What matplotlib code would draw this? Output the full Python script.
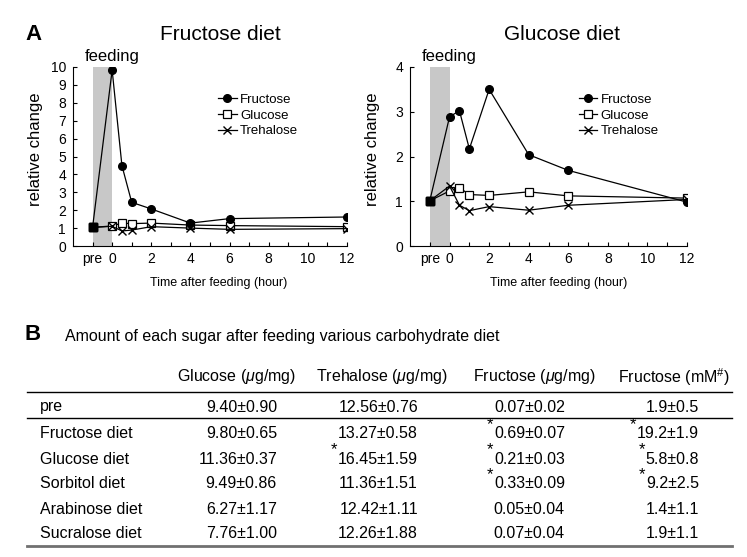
import matplotlib
matplotlib.use("Agg")
import matplotlib.pyplot as plt
from matplotlib.lines import Line2D

plt.rcParams["font.family"] = ["Liberation Sans", "DejaVu Sans"]
plt.rcParams["mathtext.fontset"] = "custom"
plt.rcParams["mathtext.rm"] = "Liberation Sans"
plt.rcParams["mathtext.it"] = "Liberation Sans:italic"

# ---- panel A: relative change after feeding ----
hours = [-1, 0, 0.5, 1, 2, 4, 6, 12]  # -1 is the "pre" sample
xtick_pos = list(range(-1, 13))
xtick_labels = ["pre", "0", "", "2", "", "4", "", "6", "", "8", "", "10", "", "12"]

fd_fructose = [1.04, 9.83, 4.49, 2.44, 2.07, 1.28, 1.53, 1.62]
fd_glucose = [1.04, 1.12, 1.28, 1.25, 1.28, 1.17, 1.14, 1.08]
fd_trehalose = [1.04, 1.10, 0.84, 0.89, 1.08, 1.00, 0.93, 0.97]

gd_fructose = [1.01, 2.89, 3.02, 2.17, 3.50, 2.04, 1.69, 0.98]
gd_glucose = [1.01, 1.23, 1.30, 1.15, 1.13, 1.21, 1.12, 1.07]
gd_trehalose = [1.01, 1.34, 0.91, 0.79, 0.88, 0.80, 0.91, 1.04]

# ---- panel B: table ----
row_labels = ["pre", "Fructose diet", "Glucose diet", "Sorbitol diet",
              "Arabinose diet", "Sucralose diet"]
col_headers = [r"Glucose ($\mu$g/mg)", r"Trehalose ($\mu$g/mg)",
               r"Fructose ($\mu$g/mg)", r"Fructose (mM$^{\#}$)"]
glucose_mean = [9.40, 9.80, 11.36, 9.49, 6.27, 7.76]
glucose_sd = [0.90, 0.65, 0.37, 0.86, 1.17, 1.00]
trehalose_mean = [12.56, 13.27, 16.45, 11.36, 12.42, 12.26]
trehalose_sd = [0.76, 0.58, 1.59, 1.51, 1.11, 1.88]
fructose_mean = [0.07, 0.69, 0.21, 0.33, 0.05, 0.07]
fructose_sd = [0.02, 0.07, 0.03, 0.09, 0.04, 0.04]
fructose_mm_mean = [1.9, 19.2, 5.8, 9.2, 1.4, 1.9]
fructose_mm_sd = [0.5, 1.9, 0.8, 2.5, 1.1, 1.1]
# significant vs pre (asterisk)
glucose_sig = [False] * 6
trehalose_sig = [False, False, True, False, False, False]
fructose_sig = [False, True, True, True, False, False]
fructose_mm_sig = [False, True, True, True, False, False]

W, H = 747, 557
fig = plt.figure(figsize=(W / 100, H / 100), dpi=100)


def px_axes(x0, x1, ytop, ybot):
    return fig.add_axes([x0 / W, 1 - ybot / H, (x1 - x0) / W, (ybot - ytop) / H])


def draw_panel(ax, fru, glc, tre, ymax, leg_x, xlab_x):
    ax.axvspan(-1, 0, color="#c8c8c8", lw=0, zorder=0)
    idx = list(range(1, len(hours)))
    ax.plot(hours, glc, color="black", lw=0.9, marker="s", ms=5.5,
            mfc="white", mec="black", mew=0.9, markevery=idx, zorder=3)
    ax.plot(hours, tre, color="black", lw=0.9, marker="x", ms=5.5,
            mew=1.0, markevery=idx, zorder=3)
    ax.plot(hours, fru, color="black", lw=0.9, marker="o", ms=5.5,
            mfc="black", markevery=idx, zorder=4)
    for s in (fru, glc, tre):
        ax.plot(hours[0], s[0], marker="s", ms=6, color="black", ls="none", zorder=5)

    ax.set_xlim(-2, 12)
    ax.set_ylim(0, ymax)
    ax.set_xticks(xtick_pos)
    ax.set_xticklabels(xtick_labels)
    ax.set_yticks(range(0, ymax + 1))
    ax.tick_params(direction="in", length=3, width=0.8, labelsize=10)
    ax.tick_params(axis="x", pad=4)
    ax.tick_params(axis="y", pad=5)
    for sp in ("top", "right"):
        ax.spines[sp].set_visible(False)
    for sp in ("left", "bottom"):
        ax.spines[sp].set_linewidth(0.8)
    ax.patch.set_visible(False)

    ax.set_ylabel("relative change", fontsize=12)
    ax.yaxis.set_label_coords(-0.11, 0.54)
    ax.set_xlabel("Time after feeding (hour)", fontsize=9)
    ax.xaxis.set_label_coords(xlab_x, -0.175)

    ax.text(0, 1.06, "feeding", transform=ax.get_xaxis_transform(),
            ha="center", va="center", fontsize=12)

    handles = [
        Line2D([], [], color="black", lw=0.9, marker="o", ms=5.5, mfc="black"),
        Line2D([], [], color="black", lw=0.9, marker="s", ms=5.5, mfc="white", mew=0.9),
        Line2D([], [], color="black", lw=0.9, marker="x", ms=5.5, mew=1.0),
    ]
    ax.legend(handles, ["Fructose", "Glucose", "Trehalose"], loc="upper left",
              bbox_to_anchor=(leg_x, 0.85), frameon=False, fontsize=9.5,
              handlelength=1.4, handletextpad=0.25, labelspacing=0.25,
              borderpad=0, borderaxespad=0, numpoints=1)


ax1 = px_axes(73, 347, 67, 246)
draw_panel(ax1, fd_fructose, fd_glucose, fd_trehalose, 10, 0.53, 0.53)
ax2 = px_axes(410, 687, 67, 246)
draw_panel(ax2, gd_fructose, gd_glucose, gd_trehalose, 4, 0.61, 0.535)

# overlay in pixel coordinates for labels and the table
ov = fig.add_axes([0, 0, 1, 1], zorder=-1)
ov.set_xlim(0, W)
ov.set_ylim(H, 0)
ov.axis("off")

ov.text(33, 34, "A", fontsize=16, fontweight="bold", ha="center", va="center")
ov.text(220, 35, "Fructose diet", fontsize=15, ha="center", va="center")
ov.text(562, 35, "Glucose diet", fontsize=15, ha="center", va="center")

ov.text(33, 335, "B", fontsize=16, fontweight="bold", ha="center", va="center")
ov.text(65, 337, "Amount of each sugar after feeding various carbohydrate diet",
        fontsize=11.5, ha="left", va="center")

header_x = [237, 382, 534, 674]
value_right = [277, 418, 565, 699]
row_y = [407, 434, 459, 484, 509, 534]
header_y = 377

for hx, h in zip(header_x, col_headers):
    ov.text(hx, header_y, h, fontsize=11.5, ha="center", va="center")

ov.plot([27, 732], [391.5, 391.5], color="black", lw=1.0)
ov.plot([27, 732], [417.5, 417.5], color="black", lw=1.0)
ov.plot([27, 732], [545.5, 545.5], color="#707070", lw=2.0)

columns = [
    (glucose_mean, glucose_sd, glucose_sig, "{:.2f}±{:.2f}"),
    (trehalose_mean, trehalose_sd, trehalose_sig, "{:.2f}±{:.2f}"),
    (fructose_mean, fructose_sd, fructose_sig, "{:.2f}±{:.2f}"),
    (fructose_mm_mean, fructose_mm_sd, fructose_mm_sig, "{:.1f}±{:.1f}"),
]

for ry, lab in zip(row_y, row_labels):
    ov.text(40, ry, lab, fontsize=11.5, ha="left", va="center")

for xr, (means, sds, sigs, fmt) in zip(value_right, columns):
    for ry, m, s, sig in zip(row_y, means, sds, sigs):
        t = ov.text(xr, ry, fmt.format(m, s), fontsize=11.5, ha="right", va="center")
        if sig:
            ov.annotate("*", xy=(0, 1), xycoords=t, xytext=(-0.5, 1.5),
                        textcoords="offset points", ha="right", va="center",
                        fontsize=12)

fig.savefig("out.png", dpi=100)
